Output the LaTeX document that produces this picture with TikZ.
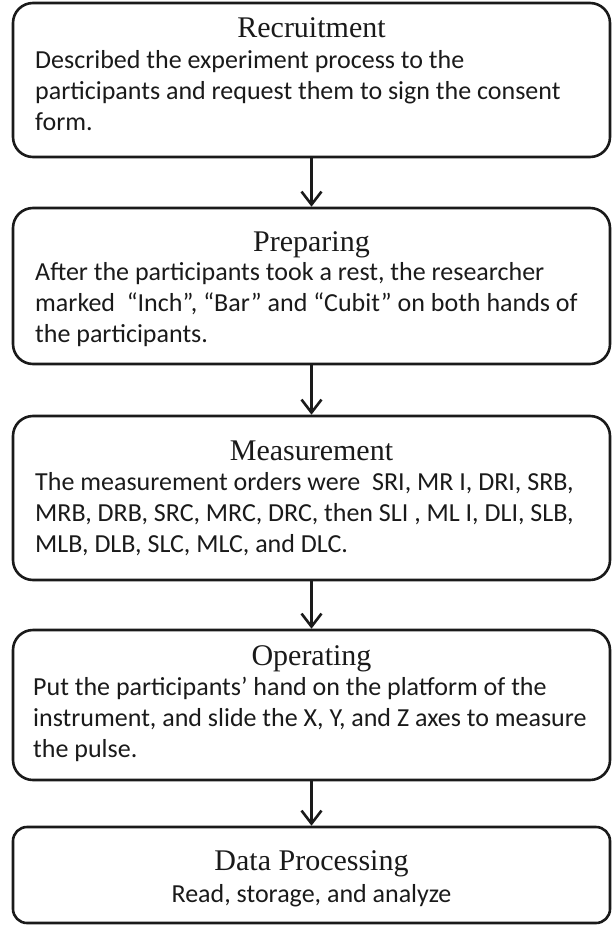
\documentclass[tikz,border=0pt]{standalone}
\usepackage{fontspec}
\setmainfont{Carlito}
\newfontfamily\ttlfont{Liberation Serif}
\usetikzlibrary{arrows.meta}
\definecolor{ink}{HTML}{1A1A1A}
\tikzset{
  box/.style={draw=ink, line width=2.6pt, rounded corners=20pt, minimum width=597pt, inner sep=0pt},
  arr/.style={draw=ink, line width=2.6pt, -{Straight Barb[length=13pt,width=20pt]}},
  ttl/.style={text=ink, font=\ttlfont\fontsize{30}{36}\selectfont, inner sep=0pt, anchor=base},
  txt/.style={text=ink, font=\fontsize{26}{31}\selectfont, inner sep=0pt, anchor=base west},
}

\begin{document}
\begin{tikzpicture}[x=1pt,y=1pt]
  \useasboundingbox (0,0) rectangle (612,-926);
  \def\cx{311.5}
  \def\lx{35}
  % boxes
  \node[box, minimum height=154pt] (rec) at (\cx,-80) {};
  \node[box, minimum height=156pt] (prep) at (\cx,-286) {};
  \node[box, minimum height=164pt] (meas) at (\cx,-498) {};
  \node[box, minimum height=150pt] (oper) at (\cx,-705) {};
  \node[box, minimum height=96pt, rounded corners=14pt] (data) at (\cx,-875) {};
  % titles
  \node[ttl] (rec-t) at (\cx,-37) {Recruitment};
  \node[ttl] (prep-t) at (\cx,-251) {Preparing};
  \node[ttl] (meas-t) at (\cx,-460) {Measurement};
  \node[ttl] (oper-t) at (\cx,-665) {Operating};
  \node[ttl] (data-t) at (\cx,-870) {Data Processing};
  % body text
  \foreach \t [count=\i] in {Described the experiment process to the,
      participants and request them to sign the consent, form.}
    \node[txt] (rec-\i) at (\lx,{-68-31*(\i-1)}) {\t};
  \foreach \t [count=\i] in {{After the participants took a rest, the researcher},
      {marked \ “Inch”, “Bar” and “Cubit” on both hands of}, the participants.}
    \node[txt] (prep-\i) at (\lx,{-280-31*(\i-1)}) {\t};
  \foreach \t [count=\i] in {{The measurement orders were \ SRI, MR I, DRI, SRB,},
      {MRB, DRB, SRC, MRC, DRC, then SLI , ML I, DLI, SLB,},
      {MLB, DLB, SLC, MLC, and DLC.}}
    \node[txt] (meas-\i) at (\lx,{-490-31*(\i-1)}) {\t};
  \foreach \t [count=\i] in {Put the participants’ hand on the platform of the,
      {instrument, and slide the X, Y, and Z axes to measure}, the pulse.}
    \node[txt] (oper-\i) at (\lx-2,{-695-31*(\i-1)}) {\t};
  \node[txt, anchor=base] (data-1) at (\cx,-902) {Read, storage, and analyze};
  % arrows
  \draw[arr] (rec) -- (prep);
  \draw[arr] (prep) -- (meas);
  \draw[arr] (meas) -- (oper);
  \draw[arr] (oper) -- (data);
\end{tikzpicture}
\end{document}
